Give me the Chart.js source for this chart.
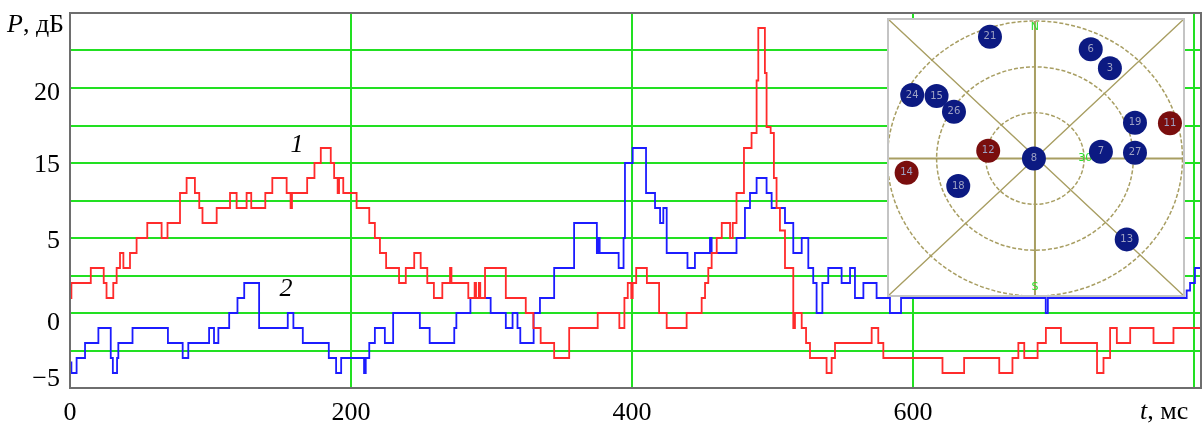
<!DOCTYPE html>
<html>
<head>
<meta charset="utf-8">
<script src="https://cdn.jsdelivr.net/npm/chart.js@4.4.1/dist/chart.umd.min.js"></script>
<style>
  html, body { margin: 0; padding: 0; background: #fff; }
  #wrap { position: relative; width: 1203px; height: 423px; }
  #main { position: absolute; left: 0; top: 0; }
  #sky { position: absolute; left: 887px; top: 18px; }
</style>
</head>
<body>
<div id="wrap">
  <canvas id="main" width="1203" height="423"></canvas>
  <canvas id="sky" width="298" height="279"></canvas>
</div>
<script>
// curve 1 (red): step start times, ms, and levels
const redT = [0, 1, 14.8, 24, 26, 30.8, 33.2, 35.6, 38, 42.7, 47.4, 55, 65.2, 69.4, 78.3, 83, 88.9, 92, 94.3,
  104.4, 113.9, 118.6, 125.7, 129, 139, 144, 154.2, 157, 158, 168.8, 174, 178.5, 185.6, 188, 190.5, 191.5,
  194.5, 204, 213, 217, 220.6, 225, 234.2, 239, 245, 249.6, 254.3, 259, 265, 270.5, 271.5, 283.5, 288, 289,
  291, 292, 295.4, 310.2, 324.4, 329.8, 335, 344.6, 355.3, 375.6, 391, 394.6, 397, 399.5, 400.5, 403, 410.6,
  419.3, 424.7, 438.9, 449.6, 452, 454.3, 456.7, 460.3, 463.9, 469.8, 471.7, 474.4, 479.7, 485.1, 488.7,
  489.9, 494.6, 495.8, 498.7, 501, 502.9, 505.3, 508.9, 514.8, 516, 520.8, 523.9, 526.7, 538.5, 542.1,
  544.5, 570.6, 575.3, 578.9, 621, 636.4, 661.4, 670.8, 675, 679.2, 688.7, 694.6, 705.3, 731, 735.6, 740.3,
  745.1, 754.6, 771.2, 785.4, 805];
const redP = [6, 7, 8, 7, 6, 7, 8, 9, 8, 9, 10, 11, 10, 11, 13, 14, 13, 12, 11,
  12, 13, 12, 13, 12, 13, 14, 13, 12, 13, 14, 15, 16, 15, 14, 13, 14,
  13, 12, 11, 10, 9, 8, 7, 8, 9, 8, 7, 6, 7, 8, 7, 6, 7, 6,
  7, 6, 8, 6, 5, 4, 3, 2, 4, 5, 4, 6, 7, 6, 7, 8, 7,
  5, 4, 5, 6, 7, 8, 9, 10, 11, 10, 11, 13, 16, 17, 20.5,
  24, 21, 17.4, 17, 14, 12, 10.5, 8, 4, 5, 4, 3, 2, 1, 2,
  3, 4, 3, 2, 1, 2, 1, 2, 3, 2, 3, 4, 3, 1, 2, 4,
  3, 4, 3, 4, 4];

// curve 2 (blue)
const blueT = [0, 1, 4.7, 10.7, 20.2, 29, 30.5, 33.5, 34.4, 44.5, 69.7, 80.2, 84.2, 99, 102.5, 105.6, 113.3,
  119.2, 124, 134.6, 155, 159, 165.7, 184.2, 189.4, 193, 209.3, 210.5, 213, 217, 224.1, 230, 249, 256,
  273.5, 275, 285, 299.4, 310.2, 315, 318.5, 320.5, 330, 334.5, 344.6, 358.8, 375, 376, 377, 390.5, 394,
  395, 400.5, 410, 416.4, 420, 422.3, 424.7, 439.5, 444.8, 455.5, 456.7, 474.4, 480.4, 484, 488.7, 495.8,
  499.4, 508.9, 514.8, 520.8, 525.5, 529, 531.4, 535.5, 539.7, 549.2, 555.2, 558.7, 564.7, 574.1, 583.6,
  591.5, 694.5, 696, 794.8, 797.2, 800.7, 805];
const blueP = [1.7, 1, 2, 3, 4, 2, 1, 2, 3, 4, 3, 2, 3, 4, 3, 4, 5,
  6, 7, 4, 5, 4, 3, 2, 1, 2, 1, 2, 3, 4, 3, 5, 4, 3,
  4, 5, 6, 5, 4, 5, 4, 3, 5, 6, 8, 11, 9, 10, 9, 8, 10,
  15, 16, 13, 12, 11, 12, 9, 8, 9, 10, 9, 10, 12, 13, 14, 13,
  12, 11, 9, 10, 8, 7, 5, 7, 8, 7, 8, 6, 7, 6, 5,
  6, 5, 6, 6.5, 7, 8, 8];

// axis ticks
const xTicks = [0, 200, 400, 600, 800];
const xLabels = ['0', '200', '400', '600', ''];
const yGrid = [2.5, 5, 7.5, 10, 12.5, 15, 17.5, 20, 22.5];
const yLabelAt = [0.6, 4.35, 9.79, 14.83, 19.67];
const yLabels = ['\u22125', '0', '5', '15', '20'];

// inset sky plot: satellites
const satId = ['21', '6', '3', '24', '15', '26', '19', '11', '12', '8', '7', '27', '14', '18', '13'];
const satX = [-0.305, 0.378, 0.508, -0.832, -0.667, -0.549, 0.678, 0.915, -0.317, -0.007, 0.447, 0.678, -0.870, -0.520, 0.622];
const satY = [0.886, 0.794, 0.656, 0.462, 0.455, 0.340, 0.260, 0.256, 0.057, 0.0, 0.049, 0.042, -0.103, -0.200, -0.588];
const satUsed = [true, true, true, true, true, true, true, false, false, true, true, true, false, true, true];
const ringR = [1 / 3, 2 / 3, 1];

const serif = '"Liberation Serif", "Times New Roman", serif';
const green = '#22e022';

function textParts(ctx, parts, x, y) {
  ctx.textBaseline = 'middle';
  ctx.textAlign = 'left';
  let cx = x;
  parts.forEach(([t, it]) => {
    ctx.font = (it ? 'italic ' : '') + '26px ' + serif;
    ctx.fillText(t, cx, y);
    cx += ctx.measureText(t).width;
  });
}

const mainDecor = {
  id: 'mainDecor',
  afterDraw(chart) {
    const { ctx, chartArea: a } = chart;
    ctx.save();
    ctx.strokeStyle = '#6e6e6e';
    ctx.lineWidth = 2;
    ctx.strokeRect(a.left, a.top, a.right - a.left, a.bottom - a.top);
    ctx.fillStyle = '#000';
    textParts(ctx, [['P', true], [', дБ', false]], 7, 25);
    textParts(ctx, [['t', true], [', мс', false]], 1140, 412);
    ctx.font = 'italic 26px ' + serif;
    ctx.textAlign = 'center';
    ctx.fillText('1', 297, 145);
    ctx.fillText('2', 286, 289);
    ctx.restore();
  }
};

new Chart(document.getElementById('main'), {
  type: 'line',
  data: {
    datasets: [
      { data: redT.map((t, i) => ({ x: t, y: redP[i] })), borderColor: '#ff2b2b', borderWidth: 1.8, stepped: 'before', pointRadius: 0 },
      { data: blueT.map((t, i) => ({ x: t, y: blueP[i] })), borderColor: '#1c1cff', borderWidth: 1.8, stepped: 'before', pointRadius: 0 }
    ]
  },
  options: {
    responsive: false,
    animation: false,
    devicePixelRatio: 1,
    layout: { autoPadding: false, padding: { top: 13, right: 2, left: 0, bottom: 0 } },
    plugins: { legend: { display: false }, tooltip: { enabled: false } },
    scales: {
      x: {
        type: 'linear', min: 0, max: 805,
        afterBuildTicks: s => { s.ticks = xTicks.map(v => ({ value: v })); },
        afterFit: s => { s.height = 35; s.paddingLeft = 0; s.paddingRight = 0; },
        ticks: { autoSkip: false, maxRotation: 0, padding: 10, color: '#000', font: { family: serif, size: 26 },
          callback: (v, i) => xLabels[i] },
        grid: { drawTicks: false, lineWidth: 2, color: c => (c.tick && c.tick.value > 0 ? green : 'rgba(0,0,0,0)') },
        border: { display: false }
      },
      y: {
        min: 0, max: 25,
        afterBuildTicks: s => { s.ticks = yGrid.concat(yLabelAt).sort((a, b) => a - b).map(v => ({ value: v })); },
        afterFit: s => { s.width = 70; s.paddingTop = 0; s.paddingBottom = 0; },
        ticks: { autoSkip: false, padding: 10, color: '#000', font: { family: serif, size: 26 },
          callback: v => { const k = yLabelAt.indexOf(v); return k >= 0 ? yLabels[k] : ''; } },
        grid: { drawTicks: false, lineWidth: 2, color: c => (c.tick && yGrid.includes(c.tick.value) ? green : 'rgba(0,0,0,0)') },
        border: { display: false }
      }
    }
  },
  plugins: [mainDecor]
});

// inset sky plot
const olive = '#a89e62';
const skyDecor = {
  id: 'skyDecor',
  beforeDatasetsDraw(chart) {
    const { ctx, chartArea: a, scales: { x, y } } = chart;
    const cx = x.getPixelForValue(0), cy = y.getPixelForValue(0);
    const ux = x.getPixelForValue(1) - cx, uy = cy - y.getPixelForValue(1);
    ctx.save();
    ctx.fillStyle = '#fff';
    ctx.fillRect(0, 0, chart.width, chart.height);
    ctx.strokeStyle = olive;
    ctx.lineWidth = 1.3;
    ctx.beginPath();
    ctx.moveTo(a.left, a.top); ctx.lineTo(a.right, a.bottom);
    ctx.moveTo(a.right, a.top); ctx.lineTo(a.left, a.bottom);
    ctx.stroke();
    ctx.lineWidth = 2;
    ctx.beginPath();
    ctx.moveTo(a.left, cy); ctx.lineTo(a.right, cy);
    ctx.moveTo(cx, cy - uy); ctx.lineTo(cx, cy + uy);
    ctx.stroke();
    ctx.setLineDash([4, 2]);
    ctx.lineWidth = 1.5;
    ringR.forEach(r => {
      ctx.beginPath();
      ctx.ellipse(cx, cy, ux * r, uy * r, 0, 0, Math.PI * 2);
      ctx.stroke();
    });
    ctx.setLineDash([]);
    ctx.fillStyle = '#2ee02e';
    ctx.font = '11px "DejaVu Sans", sans-serif';
    ctx.textAlign = 'center';
    ctx.textBaseline = 'middle';
    ctx.fillText('N', cx, y.getPixelForValue(0.956));
    ctx.fillText('S', cx, y.getPixelForValue(-0.935));
    ctx.fillText('30', x.getPixelForValue(0.34), cy);
    ctx.restore();
  },
  afterDatasetsDraw(chart) {
    const { ctx, scales: { x, y } } = chart;
    ctx.save();
    ctx.font = '10px "DejaVu Sans", sans-serif';
    ctx.textAlign = 'center';
    ctx.textBaseline = 'middle';
    ctx.fillStyle = '#9ea2c4';
    satId.forEach((id, i) => ctx.fillText(id, x.getPixelForValue(satX[i]), y.getPixelForValue(satY[i])));
    ctx.strokeStyle = '#c4c4c4';
    ctx.lineWidth = 2;
    ctx.strokeRect(1, 1, chart.width - 2, chart.height - 2);
    ctx.restore();
  }
};

new Chart(document.getElementById('sky'), {
  type: 'scatter',
  data: {
    datasets: [{
      data: satX.map((v, i) => ({ x: v, y: satY[i] })),
      pointRadius: 12,
      borderWidth: 0,
      clip: false,
      backgroundColor: satUsed.map(u => (u ? '#0c1a82' : '#7a0e0e'))
    }]
  },
  options: {
    responsive: false,
    animation: false,
    devicePixelRatio: 1,
    layout: { autoPadding: false, padding: 0 },
    plugins: { legend: { display: false }, tooltip: { enabled: false } },
    scales: {
      x: { type: 'linear', min: -1.003, max: 1.017, display: false },
      y: { type: 'linear', min: -1.007, max: 1.022, display: false }
    }
  },
  plugins: [skyDecor]
});
</script>
</body>
</html>
